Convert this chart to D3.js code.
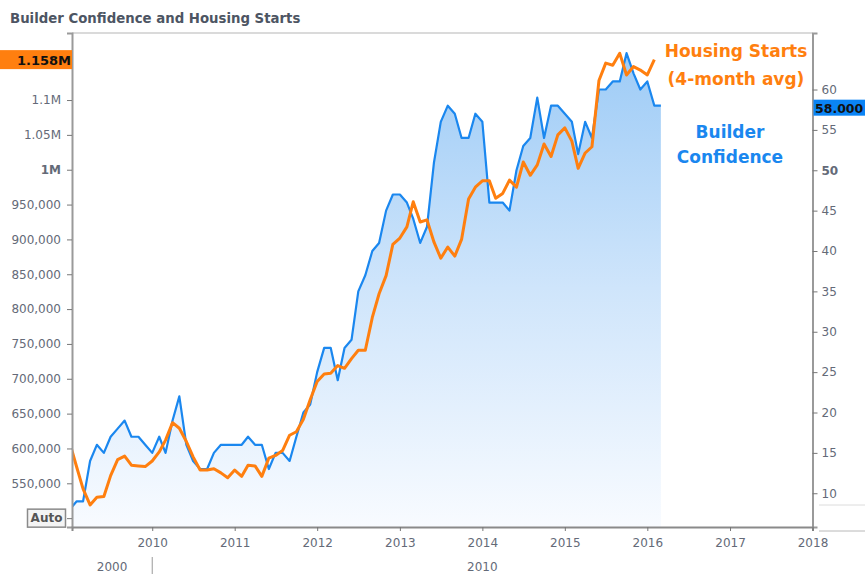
<!DOCTYPE html>
<html><head><meta charset="utf-8">
<script src="https://cdn.jsdelivr.net/npm/d3@7"></script>
<style>
body{margin:0;background:#fff;}
svg{display:block;font-family:"DejaVu Sans",sans-serif;}
</style>
</head><body>
<svg id="c" width="865" height="574"></svg>
<script>
const chartTitle = "Builder Confidence and Housing Starts";
const startYear = 2009, startMonthIndex = 0;
// NAHB builder confidence, monthly Jan 2009 - Mar 2016 (right axis)
const builderConfidence = [
  8, 9, 9, 14, 16, 15, 17, 18, 19, 17, 17, 16,
  15, 17, 15, 19, 22, 16, 14, 13, 13, 15, 16, 16,
  16, 16, 17, 16, 16, 13, 15, 15, 14, 17, 20, 21,
  25, 28, 28, 24, 28, 29, 35, 37, 40, 41, 45, 47,
  47, 46, 44, 41, 43, 51, 56, 58, 57, 54, 54, 57,
  56, 46, 46, 46, 45, 50, 53, 54, 59, 54, 58, 58,
  57, 56, 52, 56, 54, 60, 60, 61, 61, 64.5, 62, 60,
  61, 58, 58
];
// Housing starts, 4-month average, monthly Jan 2009 - Feb 2016 (left axis)
const housingStarts = [
  608000, 573000, 542000, 519000, 530000, 531000, 561000, 584000, 589000, 576000, 575000, 574000,
  582000, 595000, 612000, 637000, 629000, 610000, 588000, 569000, 569000, 571000, 565000, 558000,
  569000, 560000, 576000, 575000, 560000, 586000, 590000, 597000, 619000, 624000, 642000, 670000,
  696000, 707000, 708000, 719000, 715000, 729000, 741000, 741000, 788000, 822000, 848000, 893000,
  902000, 918000, 954000, 925000, 928000, 896000, 873000, 889000, 876000, 900000, 958000, 975000,
  984000, 984000, 959000, 966000, 985000, 975000, 1011000, 992000, 1007000, 1037000, 1019000, 1050000,
  1060000, 1041000, 1002000, 1024000, 1033000, 1128000, 1153000, 1150000, 1167000, 1136000, 1148000, 1143000,
  1136000, 1158000
];
const leftTicks = [500000, 550000, 600000, 650000, 700000, 750000, 800000, 850000, 900000, 950000, 1000000, 1050000, 1100000, 1150000];
// the 1.15M label sits under the last-value tag, so it is left blank
const leftTickLabels = ["Auto", "550,000", "600,000", "650,000", "700,000", "750,000", "800,000", "850,000", "900,000", "950,000", "1M", "1.05M", "1.1M", ""];
const rightTicks = [10, 15, 20, 25, 30, 35, 40, 45, 50, 55, 60];
const yearTicks = [2010, 2011, 2012, 2013, 2014, 2015, 2016, 2017, 2018];
const decadeLabels = ["2000", "2010"];
const lastHousingLabel = "1.158M";
const lastConfidenceLabel = "58.000";
const legendHousing = ["Housing Starts", "(4-month avg)"];
const legendBuilder = ["Builder", "Confidence"];

const ORANGE = "#ff7f0f", BLUE = "#1a87ef";
const X0 = 72, X1 = 812.5, Y0 = 33, Y1 = 527;

const svg = d3.select("#c");
const x = d3.scaleTime().domain([new Date(2009, 0, 11), new Date(2018, 0, 1)]).range([X0, X1]);
const yL = d3.scaleLinear().domain([487300, 1196200]).range([Y1, Y0]);
const yR = d3.scaleLinear().domain([5.82, 67.0]).range([Y1, Y0]);

const start = new Date(startYear, startMonthIndex, 1);
const blueData = builderConfidence.map((v, i) => ({date: d3.timeMonth.offset(start, i), v}));
const orangeData = housingStarts.map((v, i) => ({date: d3.timeMonth.offset(start, i), v}));

const defs = svg.append("defs");
const grad = defs.append("linearGradient").attr("id", "g").attr("gradientUnits", "userSpaceOnUse")
  .attr("x1", 0).attr("x2", 0).attr("y1", 50).attr("y2", Y1);
grad.append("stop").attr("offset", 0).attr("stop-color", "#9dcbf6");
grad.append("stop").attr("offset", 0.5).attr("stop-color", "#cfe5fb");
grad.append("stop").attr("offset", 1).attr("stop-color", "#f8fbff");
defs.append("clipPath").attr("id", "clip").append("rect")
  .attr("x", X0).attr("y", Y0).attr("width", X1 - X0).attr("height", Y1 - Y0);

// title
svg.append("text").attr("x", 10).attr("y", 23).attr("font-size", 13.3).attr("font-weight", "bold")
  .attr("fill", "#4d5563").text(chartTitle);

const plot = svg.append("g").attr("clip-path", "url(#clip)");
plot.append("path").datum(blueData).attr("fill", "url(#g)")
  .attr("d", d3.area().x(d => x(d.date)).y0(Y1).y1(d => yR(d.v)));
plot.append("path").datum(blueData).attr("fill", "none").attr("stroke", BLUE).attr("stroke-width", 2.2)
  .attr("stroke-linejoin", "round").attr("d", d3.line().x(d => x(d.date)).y(d => yR(d.v)));
plot.append("path").datum(orangeData).attr("fill", "none").attr("stroke", ORANGE).attr("stroke-width", 3)
  .attr("stroke-linejoin", "round").attr("d", d3.line().x(d => x(d.date)).y(d => yL(d.v)));

// frame
svg.append("line").attr("x1", X0).attr("x2", X1).attr("y1", Y0).attr("y2", Y0).attr("stroke", "#b5b5b5").attr("stroke-width", 1);

// left axis
const tickCol = "#646a78";
const gL = svg.append("g").attr("transform", `translate(${X0},0)`)
  .call(d3.axisLeft(yL).tickValues(leftTicks).tickSize(5).tickPadding(6)
    .tickFormat((d, i) => leftTickLabels[i]));
gL.select(".domain").attr("stroke", "#9a9a9a").attr("stroke-width", 2);
gL.selectAll(".tick line").attr("stroke", "#777");
gL.selectAll(".tick text").attr("font-size", 12).attr("fill", tickCol).attr("font-family", "DejaVu Sans")
  .attr("font-weight", (d, i) => leftTickLabels[i] === "1M" ? "bold" : "normal");
// Auto box
gL.selectAll(".tick").filter((d, i) => leftTickLabels[i] === "Auto").each(function () {
  const g = d3.select(this);
  g.select("text").attr("font-weight", "bold").attr("fill", "#555").attr("x", -25.5).attr("text-anchor", "middle");
  g.insert("rect", "text").attr("x", -44.5).attr("y", -9.5).attr("width", 38).attr("height", 18)
    .attr("fill", "#f4f4f4").attr("stroke", "#8a8a8a").attr("stroke-width", 1.5);
});

// right axis
const gR = svg.append("g").attr("transform", `translate(${X1},0)`)
  .call(d3.axisRight(yR).tickValues(rightTicks).tickSize(5).tickPadding(4).tickFormat(d3.format("d")));
gR.select(".domain").attr("stroke", "#9a9a9a").attr("stroke-width", 2);
gR.selectAll(".tick line").attr("stroke", "#777");
gR.selectAll(".tick text").attr("font-size", 12).attr("fill", tickCol).attr("font-family", "DejaVu Sans")
  .attr("font-weight", d => d === 50 ? "bold" : "normal");

// bottom axis
const gB = svg.append("g").attr("transform", `translate(0,${Y1})`)
  .call(d3.axisBottom(x).tickValues(yearTicks.map(yv => new Date(yv, 0, 1))).tickSize(4).tickPadding(7)
    .tickFormat(d3.timeFormat("%Y")));
gB.select(".domain").attr("stroke", "#8a8a8a").attr("stroke-width", 2);
gB.selectAll(".tick line").attr("stroke", "#777");
gB.selectAll(".tick text").attr("font-size", 12).attr("fill", tickCol).attr("font-family", "DejaVu Sans");

// decade row
const xs = x(new Date(2010, 0, 1));
const decadeCenters = [(X0 + xs) / 2, (xs + X1) / 2];
svg.selectAll(".dec").data(decadeLabels).enter().append("text")
  .attr("x", (d, i) => decadeCenters[i]).attr("y", 571).attr("text-anchor", "middle")
  .attr("font-size", 12).attr("fill", tickCol).text(d => d);
svg.append("line").attr("x1", xs).attr("x2", xs).attr("y1", 557).attr("y2", 574).attr("stroke", "#999").attr("stroke-width", 1);

// decorative lines right
svg.append("line").attr("x1", 819).attr("x2", 865).attr("y1", 505).attr("y2", 505).attr("stroke", "#dcdcdc");
svg.append("line").attr("x1", 819).attr("x2", 865).attr("y1", 531).attr("y2", 531).attr("stroke", "#b8b8b8");

// last value labels
const lastH = housingStarts[housingStarts.length - 1];
const yH = yL(lastH);
svg.append("rect").attr("x", 0).attr("y", yH - 9.5).attr("width", X0).attr("height", 19).attr("fill", ORANGE);
svg.append("text").attr("x", 71).attr("y", yH + 5).attr("text-anchor", "end").attr("font-size", 13)
  .attr("font-weight", "bold").attr("fill", "#111").text(lastHousingLabel);
const lastB = builderConfidence[builderConfidence.length - 1];
const yB = yR(lastB);
svg.append("rect").attr("x", X1 + 1).attr("y", yB - 6).attr("width", 865 - X1).attr("height", 16).attr("fill", "#0a84f5");
svg.append("text").attr("x", 815).attr("y", yB + 7).attr("font-size", 12.5)
  .attr("font-weight", "bold").attr("fill", "#111").text(lastConfidenceLabel);

// legend texts
svg.selectAll(".lh").data(legendHousing).enter().append("text")
  .attr("x", 736).attr("y", (d, i) => 57 + i * 28).attr("text-anchor", "middle")
  .attr("font-size", 17).attr("font-weight", "bold").attr("fill", ORANGE).text(d => d);
svg.selectAll(".lb").data(legendBuilder).enter().append("text")
  .attr("x", 730).attr("y", (d, i) => 138 + i * 25).attr("text-anchor", "middle")
  .attr("font-size", 17).attr("font-weight", "bold").attr("fill", BLUE).text(d => d);
</script>
</body></html>
